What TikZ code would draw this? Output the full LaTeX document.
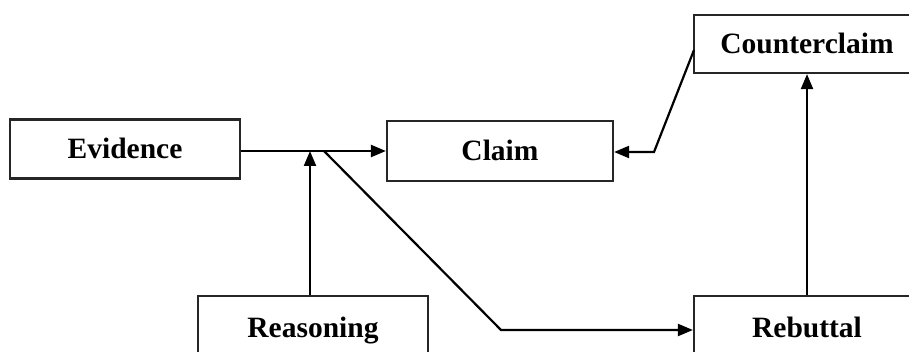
\documentclass[tikz,border=0pt]{standalone}
\usepackage{fontspec}
\setmainfont{Liberation Serif}
\usetikzlibrary{arrows.meta}
\begin{document}
\begin{tikzpicture}[x=1pt,y=-1pt,
  box/.style={draw=black!85, line width=2.2pt, fill=white, inner sep=0pt,
    text height=20pt, text depth=0pt,
    font=\fontsize{29.5}{32}\selectfont\bfseries},
  conn/.style={line width=2.2pt, black},
  arr/.style={conn, -{Triangle[length=15pt,width=12pt]}}]
\useasboundingbox (0,0) rectangle (909,352);
\clip (0,0) rectangle (909,352);
\node[box, minimum width=230pt, minimum height=59pt] (ev) at (125,149) {Evidence};
\node[box, minimum width=226pt, minimum height=60pt] (cl) at (500,151) {Claim};
\node[box, minimum width=226pt, minimum height=58pt] (cc) at (807,44) {Counterclaim};
\node[box, minimum width=230pt, minimum height=62pt] (re) at (313,327) {Reasoning};
\node[box, minimum width=226pt, minimum height=62pt] (rb) at (807,327) {Rebuttal};
\coordinate (j1) at (310,151);
\coordinate (j2) at (324,151);
\coordinate (b1) at (501,330);
\coordinate (c0) at (694,50);
\coordinate (c1) at (654,152);
\draw[arr] (ev.east |- cl.west) -- (cl.west);
\draw[arr] (j1 |- re.north) -- (j1);
\draw[arr] (j2) -- (b1) -- (b1 -| rb.west);
\draw[arr] (rb.north) -- (cc.south);
\draw[arr] (c0) -- (c1) -- (c1 -| cl.east);
\end{tikzpicture}
\end{document}
